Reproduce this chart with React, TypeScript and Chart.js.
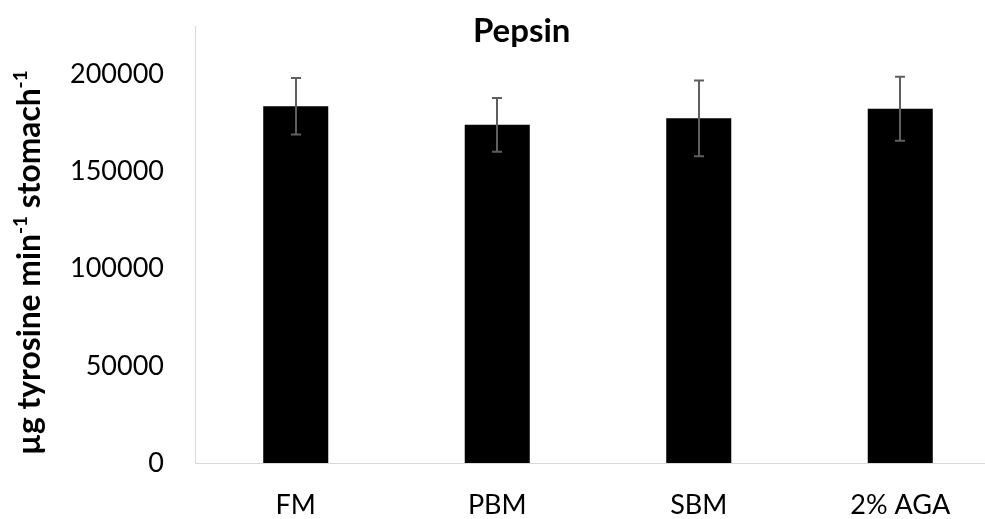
import React, { useEffect, useRef } from 'react';
import { Chart, registerables } from 'chart.js';

Chart.register(...registerables);

const categories = ['FM', 'PBM', 'SBM', '2% AGA'];
const pepsinMeans = [183700, 174100, 177500, 182400];
const pepsinErrors = [14500, 13800, 19500, 16500];
const yTickValues = [0, 50000, 100000, 150000, 200000];
const yAxisMax = 225000;
const chartTitle = 'Pepsin';
const yTitleParts = [
  { t: 'µg tyrosine min', sup: false },
  { t: '-1', sup: true },
  { t: ' stomach', sup: false },
  { t: '-1', sup: true },
];

const FONT = 'Lato, "Open Sans", sans-serif';

export default function App() {
  const ref = useRef<HTMLCanvasElement>(null);

  useEffect(() => {
    if (!ref.current) return;

    const errorBars = {
      id: 'errorBars',
      afterDatasetsDraw(chart: any) {
        const ctx = chart.ctx;
        const meta = chart.getDatasetMeta(0);
        const y = chart.scales.y;
        ctx.save();
        ctx.strokeStyle = '#5f5f5f';
        ctx.lineWidth = 2;
        meta.data.forEach((bar: any, i: number) => {
          const x = Math.round(bar.x);
          const top = y.getPixelForValue(pepsinMeans[i] + pepsinErrors[i]);
          const bot = y.getPixelForValue(pepsinMeans[i] - pepsinErrors[i]);
          ctx.beginPath();
          ctx.moveTo(x, top);
          ctx.lineTo(x, bot);
          ctx.moveTo(x - 5, top);
          ctx.lineTo(x + 5, top);
          ctx.moveTo(x - 5, bot);
          ctx.lineTo(x + 5, bot);
          ctx.stroke();
        });
        ctx.restore();
      },
    };

    const texts = {
      id: 'texts',
      afterDraw(chart: any) {
        const ctx = chart.ctx;
        ctx.save();
        ctx.fillStyle = '#000';
        // title
        ctx.font = `bold 33px ${FONT}`;
        ctx.textAlign = 'center';
        ctx.textBaseline = 'alphabetic';
        ctx.fillText(chartTitle, 521.7, 41.5);

        // y axis title with superscripts, fitted to target length
        const base = 28;
        const supRatio = 0.6;
        let total = 0;
        yTitleParts.forEach((p) => {
          ctx.font = `bold ${p.sup ? base * supRatio : base}px ${FONT}`;
          total += ctx.measureText(p.t).width;
        });
        const size = (base * 385) / total;
        ctx.translate(40, 262.5);
        ctx.rotate(-Math.PI / 2);
        ctx.textAlign = 'left';
        let x = -385 / 2;
        yTitleParts.forEach((p) => {
          const fs = p.sup ? size * supRatio : size;
          ctx.font = `bold ${fs}px ${FONT}`;
          ctx.fillText(p.t, x, p.sup ? -size * 0.4 : 0);
          x += ctx.measureText(p.t).width;
        });
        ctx.restore();
      },
    };

    const chart = new Chart(ref.current, {
      type: 'bar',
      data: {
        labels: categories,
        datasets: [
          {
            data: pepsinMeans,
            backgroundColor: '#000000',
            borderWidth: 0,
            categoryPercentage: 1,
            barPercentage: 0.3227,
          },
        ],
      },
      options: {
        responsive: false,
        animation: false,
        layout: { padding: { top: 26, left: 0, right: 0, bottom: 0 } },
        plugins: {
          legend: { display: false },
          title: { display: false },
          tooltip: { enabled: false },
        },
        scales: {
          x: {
            type: 'category',
            offset: true,
            grid: { display: false, drawTicks: false },
            border: { display: true, color: '#d9d9d9', width: 1 },
            ticks: { color: '#000', font: { family: FONT, size: 27 }, padding: 26 },
            afterFit(scale: any) {
              scale.height = 56;
              scale.paddingLeft = 0;
              scale.paddingRight = 0;
            },
          },
          y: {
            min: 0,
            max: yAxisMax,
            grid: { display: false, drawTicks: false },
            border: { display: true, color: '#d9d9d9', width: 1 },
            ticks: {
              color: '#000',
              font: { family: FONT, size: 27 },
              padding: 31,
              callback: (v: any) => String(v),
            },
            afterBuildTicks(scale: any) {
              scale.ticks = yTickValues.map((v) => ({ value: v }));
            },
            afterFit(scale: any) {
              scale.width = 195;
              scale.paddingTop = 0;
              scale.paddingBottom = 0;
            },
          },
        },
      },
      plugins: [errorBars, texts],
    });

    return () => chart.destroy();
  }, []);

  return (
    <div
      style={{
        position: 'fixed',
        left: 0,
        top: 0,
        width: 985,
        height: 519,
        overflow: 'hidden',
        background: '#fff',
      }}
    >
      <canvas ref={ref} width={1001} height={519} style={{ display: 'block' }} />
    </div>
  );
}
